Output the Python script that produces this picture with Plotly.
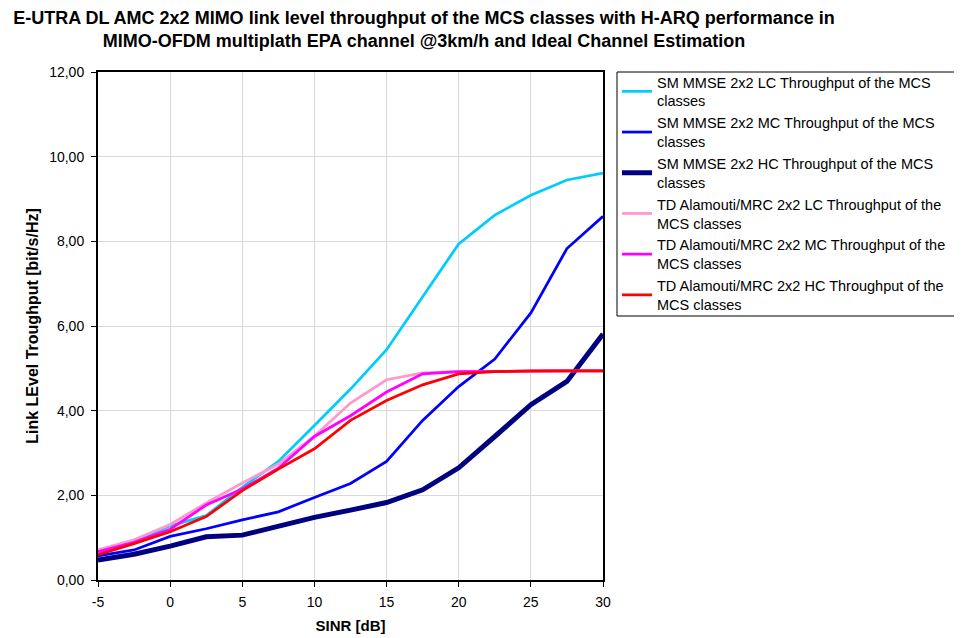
import plotly.graph_objects as go

sinr = [-5, -2.5, 0, 2.5, 5, 7.5, 10, 12.5, 15, 17.5, 20, 22.5, 25, 27.5, 30]

sm_lc = [0.65, 0.90, 1.28, 1.52, 2.19, 2.80, 3.65, 4.51, 5.44, 6.70, 7.94, 8.62, 9.09, 9.45, 9.61]
sm_mc = [0.57, 0.71, 1.03, 1.21, 1.42, 1.61, 1.95, 2.28, 2.80, 3.77, 4.57, 5.22, 6.31, 7.83, 8.59]
sm_hc = [0.47, 0.61, 0.80, 1.02, 1.06, 1.28, 1.48, 1.65, 1.83, 2.13, 2.65, 3.39, 4.14, 4.69, 5.81]
td_lc = [0.71, 0.95, 1.31, 1.82, 2.29, 2.74, 3.40, 4.18, 4.73, 4.89, 4.92, 4.93, 4.94, 4.94, 4.94]
td_mc = [0.67, 0.89, 1.20, 1.77, 2.15, 2.64, 3.39, 3.88, 4.44, 4.87, 4.92, 4.93, 4.94, 4.94, 4.94]
td_hc = [0.60, 0.86, 1.14, 1.50, 2.11, 2.62, 3.10, 3.77, 4.24, 4.61, 4.87, 4.92, 4.94, 4.94, 4.94]

x_ticks = [-5, 0, 5, 10, 15, 20, 25, 30]
x_ticktext = ["-5", "0", "5", "10", "15", "20", "25", "30"]
y_ticks = [0, 2, 4, 6, 8, 10, 12]
y_ticktext = ["0,00", "2,00", "4,00", "6,00", "8,00", "10,00", "12,00"]

names = [
    "SM MMSE 2x2 LC Throughput of the MCS<br>classes",
    "SM MMSE 2x2 MC Throughput of the MCS<br>classes",
    "SM MMSE 2x2 HC Throughput of the MCS<br>classes",
    "TD Alamouti/MRC 2x2 LC Throughput of the<br>MCS classes",
    "TD Alamouti/MRC 2x2 MC Throughput of the<br>MCS classes",
    "TD Alamouti/MRC 2x2 HC Throughput of the<br>MCS classes",
]
series = [sm_lc, sm_mc, sm_hc, td_lc, td_mc, td_hc]
colors = ["#00CCFF", "#0000FF", "#000080", "#FF99CC", "#FF00FF", "#FF0000"]
widths = [2.75, 2.75, 5, 2.75, 2.75, 2.75]

fig = go.Figure()
for i, (n, s, c, w) in enumerate(zip(names, series, colors, widths)):
    fig.add_trace(go.Scatter(x=sinr, y=s, mode="lines", name=n,
                             line=dict(color=c, width=w), legendgroup=str(i)))

W, H = 954, 630  # page body has an 8px margin in the browser
ML, MR, MT, MB = 90, 359, 64, 58
PW, PH = W - ML - MR, H - MT - MB
font = "Arial, Liberation Sans, sans-serif"

# legend frame (figure pixels -> plot-area paper coords)
box_l, box_r, box_t, box_b = 609, 953.5, 64, 308
fig.add_shape(type="rect", xref="paper", yref="paper",
              x0=(box_l - ML) / PW, x1=(box_r - ML) / PW,
              y0=(H - MB - box_b) / PH, y1=(H - MB - box_t) / PH,
              line=dict(color="black", width=1), fillcolor="white", layer="above")

fig.update_layout(
    width=W, height=H,
    margin=dict(l=ML, r=MR, t=MT, b=MB, autoexpand=False),
    paper_bgcolor="white", plot_bgcolor="white",
    font=dict(family=font, size=14, color="black"),
    title=dict(
        text="<b>E-UTRA DL AMC 2x2 MIMO link level throughput of the MCS classes with H-ARQ performance in<br>MIMO-OFDM multiplath EPA channel @3km/h and Ideal Channel Estimation</b>",
        x=416/W, xanchor="center", xref="container",
        y=1-16/H, yanchor="top", yref="container",
        font=dict(family=font, size=18, color="black"),
    ),
    xaxis=dict(
        range=[-5, 30], tickmode="array", tickvals=x_ticks, ticktext=x_ticktext,
        showgrid=True, gridcolor="#D9D9D9", gridwidth=1,
        showline=True, linecolor="black", linewidth=2, mirror=True,
        ticks="outside", ticklen=5, tickcolor="black",
        ticklabelstandoff=3,
        zeroline=False, automargin=False,
        title=dict(text="<b>SINR [dB]</b>", font=dict(size=15), standoff=12),
        tickfont=dict(size=14),
    ),
    yaxis=dict(
        range=[0, 12], tickmode="array", tickvals=y_ticks, ticktext=y_ticktext,
        showgrid=True, gridcolor="#D9D9D9", gridwidth=1,
        showline=True, linecolor="black", linewidth=2, mirror=True,
        ticks="outside", ticklen=5, tickcolor="black",
        ticklabelstandoff=4,
        zeroline=False, automargin=False,
        title=dict(text="<b>Link LEvel Troughput [bit/s/Hz]</b>", font=dict(size=16), standoff=7),
        tickfont=dict(size=14),
    ),
    legend=dict(
        x=609/W, xref="container", xanchor="left",
        y=1-58/H, yref="container", yanchor="top",
        borderwidth=0,
        font=dict(family=font, size=14.5),
        itemwidth=30, tracegroupgap=0,
        bgcolor="rgba(0,0,0,0)",
    ),
    showlegend=True,
)

fig.write_html("out.html")
